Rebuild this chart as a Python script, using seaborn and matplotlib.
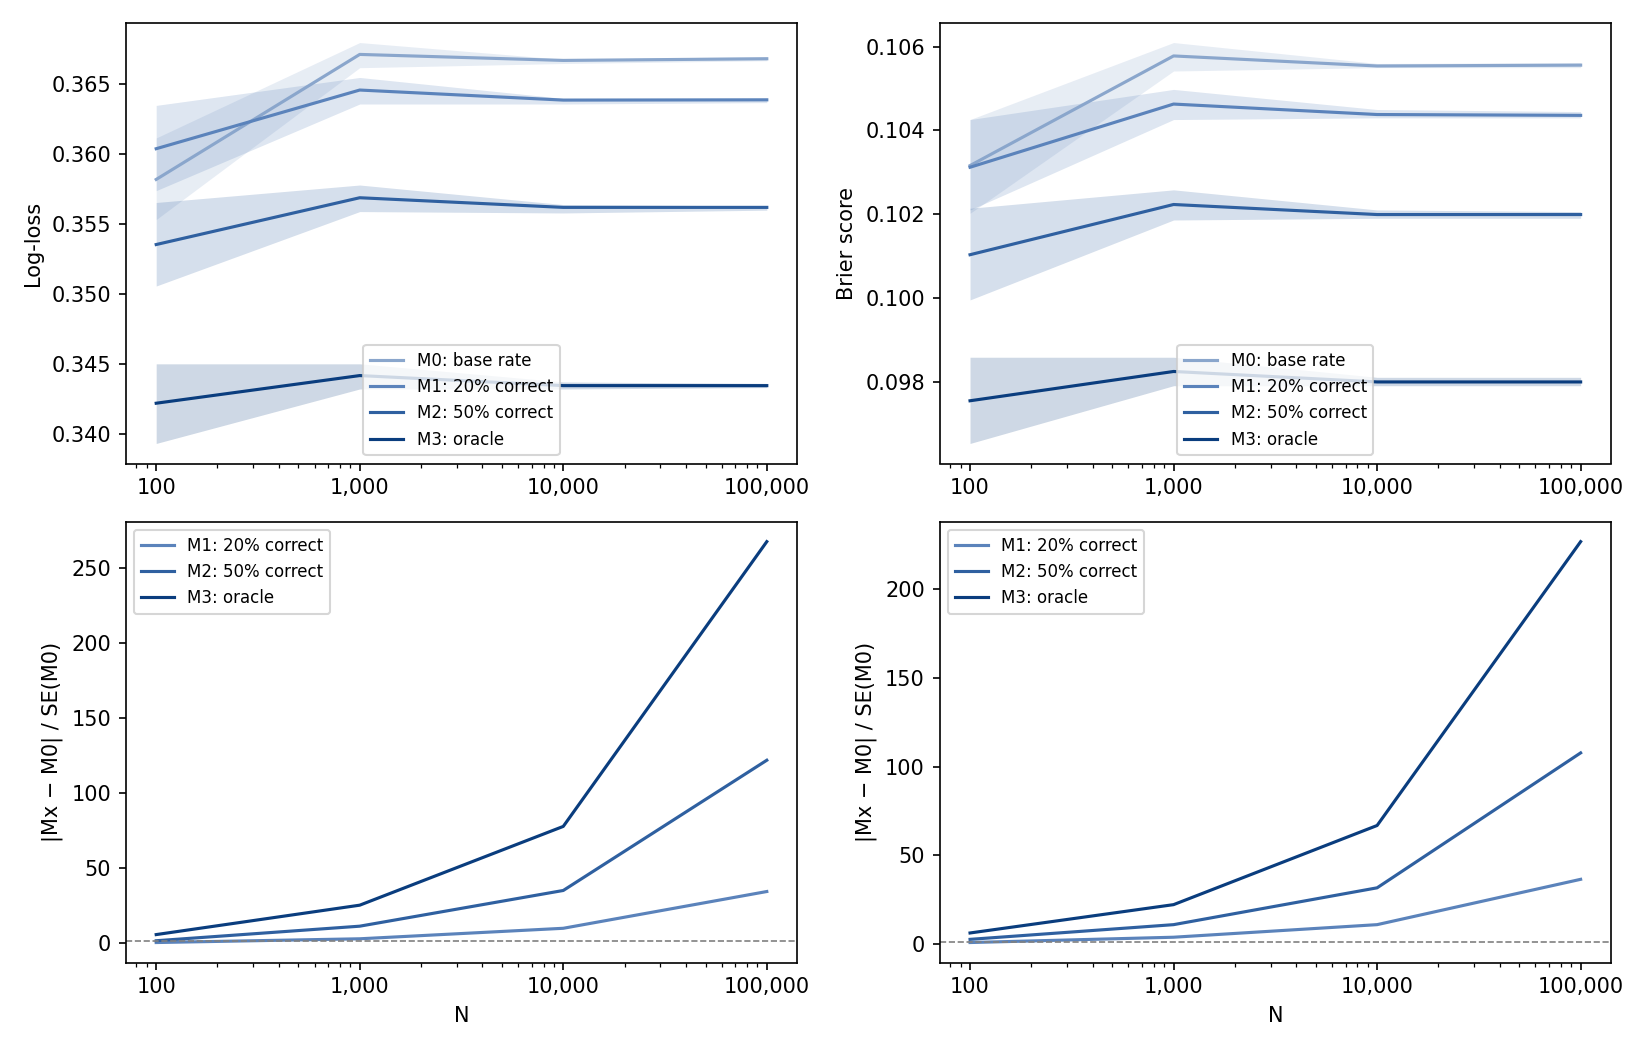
import numpy as np
import pandas as pd
import matplotlib
matplotlib.use("Agg")
import matplotlib.pyplot as plt
import matplotlib.ticker as mticker
import seaborn as sns

# sample sizes
n_values = [100, 1000, 10000, 100000]

models = ["M0: base rate", "M1: 20% correct", "M2: 50% correct", "M3: oracle"]
colors = ["#8aa6cc", "#5b83bb", "#2f60a0", "#0a3d7e"]

# log-loss: mean, lower and upper band
logloss_mean = [
    [0.3582, 0.36715, 0.36672, 0.36684],
    [0.3604, 0.3646, 0.36388, 0.3639],
    [0.35354, 0.35689, 0.3562, 0.3562],
    [0.34218, 0.34416, 0.34344, 0.34344],
]
logloss_lo = [
    [0.35533, 0.3662, 0.3665, 0.3667],
    [0.3574, 0.3636, 0.3636, 0.3637],
    [0.35057, 0.3559, 0.3558, 0.3560],
    [0.3393, 0.3432, 0.3432, 0.3433],
]
logloss_hi = [
    [0.36117, 0.3680, 0.3668, 0.3670],
    [0.3635, 0.3655, 0.3640, 0.3640],
    [0.35655, 0.3578, 0.3564, 0.3563],
    [0.3450, 0.3450, 0.3437, 0.3436],
]

# Brier score: mean, lower and upper band
brier_mean = [
    [0.10316, 0.10578, 0.10554, 0.10556],
    [0.10312, 0.10463, 0.10438, 0.10436],
    [0.10103, 0.10223, 0.10199, 0.10199],
    [0.09754, 0.09824, 0.09799, 0.09799],
]
brier_lo = [
    [0.10202, 0.10542, 0.1055, 0.1055],
    [0.1021, 0.10426, 0.1043, 0.1043],
    [0.09995, 0.10186, 0.1019, 0.1019],
    [0.09652, 0.0979, 0.0979, 0.0979],
]
brier_hi = [
    [0.10426, 0.1061, 0.1056, 0.10562],
    [0.10426, 0.10498, 0.1045, 0.10445],
    [0.10214, 0.10258, 0.1021, 0.10206],
    [0.09858, 0.09858, 0.0981, 0.0981],
]

# |Mx - M0| / SE(M0) for M1..M3
sep_logloss = [
    [0.3, 2.8, 9.8, 34.3],
    [1.5, 11.2, 35.0, 121.8],
    [5.6, 25.2, 77.7, 267.5],
]
sep_brier = [
    [0.6, 3.6, 10.7, 36.3],
    [2.4, 10.7, 31.5, 107.7],
    [6.0, 22.0, 66.7, 227.0],
]
ref_line = 1


def long_frame(values, names):
    rows = []
    for name, vals in zip(names, values):
        for n, v in zip(n_values, vals):
            rows.append({"N": n, "model": name, "value": v})
    return pd.DataFrame(rows)


def format_x(ax):
    ax.set_xscale("log")
    ax.xaxis.set_major_formatter(mticker.FuncFormatter(lambda v, p: f"{int(v):,}"))


def draw_metric(ax, mean, lo, hi, ylabel):
    df = long_frame(mean, models)
    sns.lineplot(data=df, x="N", y="value", hue="model", palette=colors,
                 ax=ax, errorbar=None, linewidth=1.5)
    for c, l, h in zip(colors, lo, hi):
        ax.fill_between(n_values, l, h, color=c, alpha=0.2, linewidth=0)
    format_x(ax)
    ax.set_xlabel("")
    ax.set_ylabel(ylabel)
    ax.legend(loc="lower center", fontsize=8)


def draw_sep(ax, vals):
    df = long_frame(vals, models[1:])
    sns.lineplot(data=df, x="N", y="value", hue="model", palette=colors[1:],
                 ax=ax, errorbar=None, linewidth=1.5)
    ax.axhline(ref_line, color="grey", linestyle="--", linewidth=0.8)
    format_x(ax)
    ax.set_xlabel("N")
    ax.set_ylabel("|Mx \u2212 M0| / SE(M0)")
    ax.legend(loc="upper left", fontsize=8)


fig, axes = plt.subplots(2, 2, figsize=(11, 7))
draw_metric(axes[0, 0], logloss_mean, logloss_lo, logloss_hi, "Log-loss")
draw_metric(axes[0, 1], brier_mean, brier_lo, brier_hi, "Brier score")
draw_sep(axes[1, 0], sep_logloss)
draw_sep(axes[1, 1], sep_brier)

plt.tight_layout()
plt.savefig("out.png", dpi=150)
